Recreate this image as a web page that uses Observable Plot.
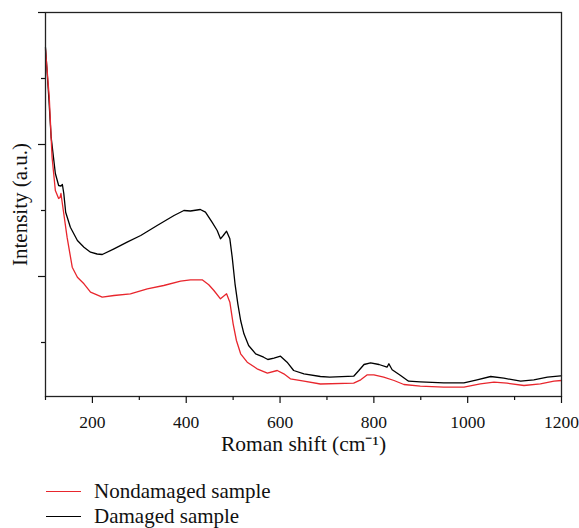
<!DOCTYPE html>
<html>
<head>
<meta charset="utf-8">
<script src="https://cdn.jsdelivr.net/npm/d3@7"></script>
<script src="https://cdn.jsdelivr.net/npm/@observablehq/plot@0.6"></script>
<style>
  html, body { margin: 0; padding: 0; background: #fff; }
  #chart svg { display: block; overflow: visible; }
  .legend { font-family: "Liberation Serif", "Times New Roman", serif; font-size: 21px; color: #111; padding-top: 9px; }
  .legend .row { position: relative; height: 25px; line-height: 25px; }
  .legend .sw { position: absolute; left: 46px; top: 12px; width: 35px; height: 0; border-top: 1.3px solid; }
  .legend .lab { position: absolute; left: 94px; top: 0; white-space: nowrap; }
</style>
</head>
<body>
<div id="chart"></div>
<div class="legend">
  <div class="row"><span class="sw" style="border-color:#e8262d"></span><span class="lab">Nondamaged sample</span></div>
  <div class="row"><span class="sw" style="border-color:#000"></span><span class="lab">Damaged sample</span></div>
</div>
<script>
// Raman shift (cm^-1) and intensity (a.u.)
const damagedShift = [100,107,112,121,128,133,136,139,143,153,168,182,196,210,221,246,274,303,338,374,395,409,430,441,455,466,473,479,486,493,498,504,510,516,523,533,548,565,574,587,601,615,629,651,686,706,757,768,779,793,811,828,832,836,839,857,874,899,949,992,1020,1049,1077,1113,1141,1170,1198,1200];
const damagedIntensity = [3490,2993,2593,2230,2110,2105,2120,2030,1843,1693,1560,1493,1443,1425,1420,1477,1543,1610,1710,1810,1860,1855,1870,1843,1743,1660,1577,1610,1653,1577,1393,1127,927,760,627,510,427,393,370,383,403,343,260,227,200,193,203,260,320,337,320,293,327,293,267,210,153,147,137,137,167,200,183,153,167,193,207,207];

const nondamagedShift = [100,108,114,121,128,131,133,135,138,146,157,168,182,196,221,246,281,317,352,388,409,434,448,459,473,486,493,500,507,516,530,551,573,594,608,622,651,686,757,772,786,800,821,843,864,899,949,992,1027,1056,1084,1120,1155,1184,1200];
const nondamagedIntensity = [3470,2993,2393,2060,1980,1990,2030,1960,1860,1593,1293,1193,1127,1043,993,1010,1027,1077,1110,1153,1167,1167,1117,1060,977,1027,943,727,560,427,343,277,233,260,227,177,153,125,133,167,217,217,193,160,120,103,93,93,127,143,133,110,127,153,160];

const xMajorTicks = [200,400,600,800,1000,1200];
const xMinorTicks = [100,300,500,700,900,1100];
const yMajorTicks = [1200,2520,3840];
const yMinorTicks = [540,1860,3180];
const xTitle = "Roman shift (cm\u207B\u00B9)";
const yTitle = "Intensity (a.u.)";

const serif = "'Liberation Serif', 'Times New Roman', serif";
const damaged = damagedShift.map((s, i) => ({shift: s, intensity: damagedIntensity[i]}));
const nondamaged = nondamagedShift.map((s, i) => ({shift: s, intensity: nondamagedIntensity[i]}));

const chart = Plot.plot({
  width: 579,
  height: 470,
  marginLeft: 45,
  marginRight: 18,
  marginTop: 12,
  marginBottom: 74,
  style: {fontFamily: serif, fontSize: "17.5px", color: "#111", background: "#fff"},
  x: {domain: [100, 1200]},
  y: {domain: [0, 3840]},
  marks: [
    Plot.line(damaged, {x: "shift", y: "intensity", stroke: "#000", strokeWidth: 1.3}),
    Plot.line(nondamaged, {x: "shift", y: "intensity", stroke: "#e8262d", strokeWidth: 1.3}),
    Plot.frame({stroke: "#222", strokeWidth: 1.3}),
    Plot.axisX({ticks: xMajorTicks, tickSize: 7, tickPadding: 12, tickFormat: d => String(d), label: null, strokeWidth: 1.2, fontSize: 17.5, fontFamily: serif}),
    Plot.axisX({ticks: xMinorTicks, tickSize: 4, tickFormat: () => "", label: null, strokeWidth: 1.2}),
    Plot.axisY({ticks: yMajorTicks, tickSize: 7, tickFormat: () => "", label: null, strokeWidth: 1.2}),
    Plot.axisY({ticks: yMinorTicks, tickSize: 4, tickFormat: () => "", label: null, strokeWidth: 1.2}),
    Plot.text([xTitle], {frameAnchor: "bottom", dy: 54, fontSize: 21.5, fontFamily: serif, fill: "#111"}),
    Plot.text([yTitle], {frameAnchor: "left", dx: -25, rotate: -90, textAnchor: "middle", fontSize: 21, fontFamily: serif, fill: "#111"})
  ]
});
document.getElementById("chart").appendChild(chart);
</script>
</body>
</html>
